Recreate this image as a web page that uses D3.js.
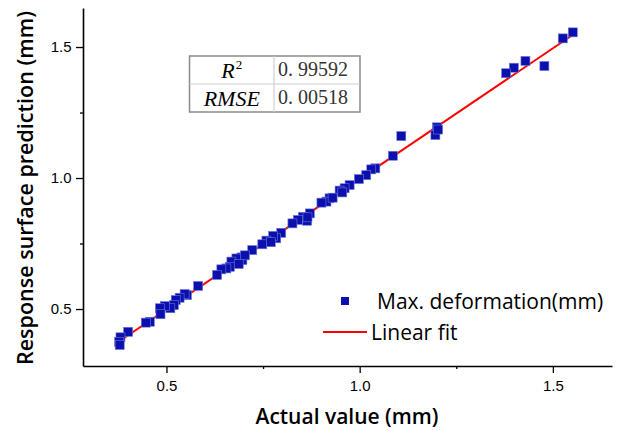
<!DOCTYPE html>
<html>
<head>
<meta charset="utf-8">
<script src="https://cdn.jsdelivr.net/npm/d3@7"></script>
<style>
  body { margin: 0; background: #fff; }
  svg { display: block; font-family: "Open Sans", sans-serif; }
  .tick text { font-size: 15px; fill: #000; }
</style>
</head>
<body>
<div class="chart"></div>
<script>
// scatter: actual vs predicted
const actual = [1.5515, 1.5256, 1.478, 1.429, 1.399, 1.379, 1.200, 1.196, 1.203, 1.1077, 1.086,
    1.0405, 1.030, 1.017, 0.998, 0.974, 0.961, 0.948, 0.955, 0.922, 0.914, 0.901, 0.871, 0.864,
    0.853, 0.840, 0.826, 0.797, 0.784, 0.776, 0.7586, 0.748, 0.722, 0.694, 0.6965, 0.681, 0.668,
    0.664, 0.655, 0.642, 0.631, 0.582, 0.553, 0.547, 0.534, 0.524, 0.519, 0.510, 0.4957, 0.483,
    0.4845, 0.457, 0.4465, 0.4007, 0.381, 0.3775, 0.379, 0.703, 0.687, 0.770, 0.865, 0.930];
const predicted = [1.556, 1.533, 1.4275, 1.447, 1.421, 1.400, 1.1935, 1.164, 1.185, 1.160, 1.085,
    1.037, 1.033, 1.011, 0.996, 0.973, 0.961, 0.952, 0.945, 0.9225, 0.910, 0.906, 0.865, 0.837,
    0.852, 0.840, 0.827, 0.791, 0.770, 0.779, 0.761, 0.747, 0.725, 0.697, 0.687, 0.693, 0.681,
    0.661, 0.655, 0.6515, 0.630, 0.588, 0.553, 0.557, 0.543, 0.534, 0.515, 0.503, 0.511, 0.503,
    0.480, 0.4515, 0.448, 0.413, 0.392, 0.375, 0.3626, 0.705, 0.672, 0.755, 0.850, 0.925];

// linear fit end points
const fitX = [0.377, 1.551];
const fitY = [0.376, 1.546];

const majorTicks = [0.5, 1.0, 1.5];
const minorTicks = [0.75, 1.25];

const statNames = ['R', 'RMSE'];
const statValues = ['0. 99592', '0. 00518'];

const width = 622;
const height = 430;
const margin = {top: 8, right: 10, bottom: 64, left: 83};

const svg = d3.select('.chart').append('svg')
    .attr('width', width)
    .attr('height', height);

const xScale = d3.scaleLinear().domain([0.284, 1.653]).range([margin.left, width - margin.right]);
const yScale = d3.scaleLinear().domain([0.2825, 1.649]).range([height - margin.bottom, margin.top]);

// axes
const xAxis = svg.append('g')
    .attr('transform', `translate(0,${height - margin.bottom})`)
    .call(d3.axisBottom(xScale).tickValues(majorTicks).tickFormat(d3.format('.1f')).tickSize(7).tickSizeOuter(0));
svg.append('g')
    .attr('transform', `translate(0,${height - margin.bottom})`)
    .call(d3.axisBottom(xScale).tickValues(minorTicks).tickFormat('').tickSize(3).tickSizeOuter(0))
    .select('.domain').remove();

const yAxis = svg.append('g')
    .attr('transform', `translate(${margin.left},0)`)
    .call(d3.axisLeft(yScale).tickValues(majorTicks).tickFormat(d3.format('.1f')).tickSize(7).tickSizeOuter(0));
svg.append('g')
    .attr('transform', `translate(${margin.left},0)`)
    .call(d3.axisLeft(yScale).tickValues(minorTicks).tickFormat('').tickSize(3).tickSizeOuter(0))
    .select('.domain').remove();

svg.selectAll('.domain').attr('stroke-width', 1.6);
svg.selectAll('.tick line').attr('stroke-width', 1.3);
xAxis.selectAll('.tick text').attr('dy', '1.0em');
yAxis.selectAll('.tick text').attr('dx', '-0.1em');

// axis titles
svg.append('text')
    .text('Actual value (mm)')
    .attr('x', 347)
    .attr('y', 424)
    .attr('text-anchor', 'middle')
    .attr('font-size', 21)
    .attr('font-weight', 600);

svg.append('text')
    .text('Response surface prediction (mm)')
    .attr('transform', 'translate(33,188) rotate(-90)')
    .attr('text-anchor', 'middle')
    .attr('font-size', 21.5)
    .attr('font-weight', 600);

// fit line
svg.append('line')
    .attr('x1', xScale(fitX[0])).attr('y1', yScale(fitY[0]))
    .attr('x2', xScale(fitX[1])).attr('y2', yScale(fitY[1]))
    .attr('stroke', '#ff0000')
    .attr('stroke-width', 2);

// points
const s = 9;
svg.append('g').selectAll('rect')
    .data(actual)
    .enter()
    .append('rect')
    .attr('x', (d, i) => xScale(d) - s / 2)
    .attr('y', (d, i) => yScale(predicted[i]) - s / 2)
    .attr('width', s)
    .attr('height', s)
    .attr('fill', '#0a0fad')
    .attr('stroke', '#6f78d8')
    .attr('stroke-width', 0.6);

// legend
const legend = svg.append('g');
legend.append('rect')
    .attr('x', 341).attr('y', 297).attr('width', 8).attr('height', 8)
    .attr('fill', '#0a0fad');
legend.append('text')
    .text('Max. deformation(mm)')
    .attr('x', 377).attr('y', 309)
    .attr('font-size', 21);
legend.append('line')
    .attr('x1', 323).attr('x2', 367).attr('y1', 332).attr('y2', 332)
    .attr('stroke', '#ff0000').attr('stroke-width', 2);
legend.append('text')
    .text('Linear fit')
    .attr('x', 371).attr('y', 340)
    .attr('font-size', 21);

// stats table
const table = svg.append('g');
const tx = [189.5, 274, 360];
const ty = [56, 84, 112];
table.append('rect')
    .attr('x', tx[0]).attr('y', ty[0])
    .attr('width', tx[2] - tx[0]).attr('height', ty[2] - ty[0])
    .attr('fill', '#fff').attr('stroke', '#8a8a8a').attr('stroke-width', 1.5);
table.append('line')
    .attr('x1', tx[0]).attr('x2', tx[2]).attr('y1', ty[1]).attr('y2', ty[1])
    .attr('stroke', '#d0d0d0').attr('stroke-width', 1.2);
table.append('line')
    .attr('x1', tx[1]).attr('x2', tx[1]).attr('y1', ty[0]).attr('y2', ty[2])
    .attr('stroke', '#d0d0d0').attr('stroke-width', 1.2);

const r2 = table.append('text')
    .attr('x', (tx[0] + tx[1]) / 2).attr('y', ty[0] + 22)
    .attr('text-anchor', 'middle')
    .attr('font-family', '"Liberation Serif", serif')
    .attr('font-style', 'italic')
    .attr('font-size', 22);
r2.append('tspan').text(statNames[0]);
r2.append('tspan').text('2').attr('font-size', 13).attr('font-style', 'normal').attr('dy', -9).attr('dx', 1);

table.append('text')
    .text(statNames[1])
    .attr('x', (tx[0] + tx[1]) / 2).attr('y', ty[1] + 22)
    .attr('text-anchor', 'middle')
    .attr('font-family', '"Liberation Serif", serif')
    .attr('font-style', 'italic')
    .attr('font-size', 22);

table.selectAll('.val')
    .data(statValues)
    .enter()
    .append('text')
    .classed('val', true)
    .text(d => d)
    .attr('x', tx[1] + 4)
    .attr('y', (d, i) => ty[i] + 20)
    .attr('font-family', '"Liberation Serif", serif')
    .attr('font-size', 20)
    .attr('fill', '#333');
</script>
</body>
</html>
